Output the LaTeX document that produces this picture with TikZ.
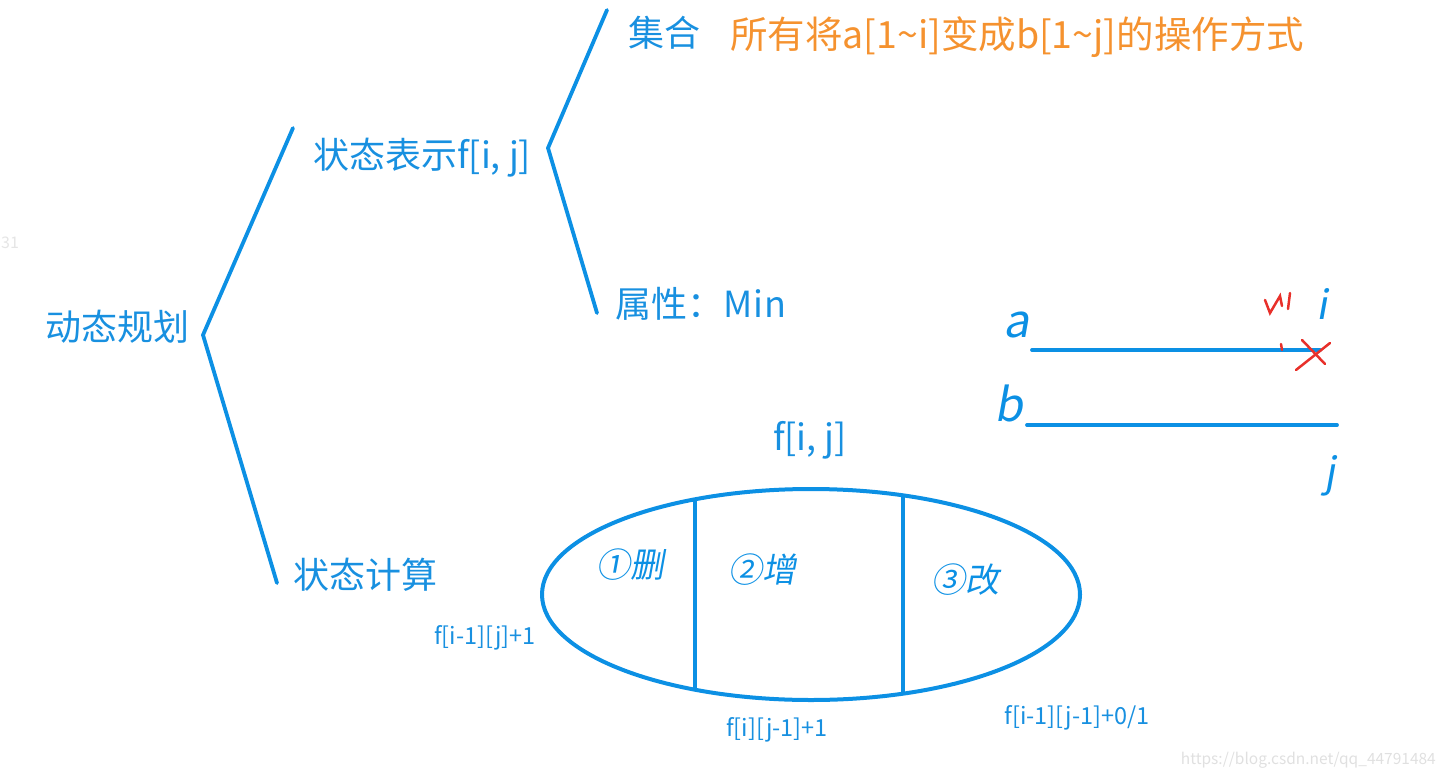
\documentclass[tikz,border=0pt]{standalone}
\usepackage{fontspec}
\setmainfont{Noto Sans CJK SC}
\newfontfamily\hand[FakeSlant=0.18]{Noto Sans CJK SC}
\usepackage{xcolor}
\usetikzlibrary{shapes.geometric,positioning}
\definecolor{penblue}{HTML}{0C90E4}
\definecolor{inkblue}{HTML}{1890E0}
\definecolor{penorange}{HTML}{F5922F}
\definecolor{penred}{HTML}{E8302A}

\begin{document}
\begin{tikzpicture}[x=1pt,y=-1pt,
	branch/.style={draw=penblue,line width=3.8pt,line cap=round,line join=round},
	title/.style={text=inkblue,font=\fontsize{36}{40}\selectfont,inner sep=0pt,anchor=west},
	formula/.style={text=inkblue,font=\fontsize{23.5}{26}\selectfont,inner sep=0pt},
	scrawl/.style={text=penblue,font=\hand\fontsize{34}{40}\selectfont,inner sep=0pt},
	redpen/.style={draw=penred,line width=2.5pt,line cap=round}]
		\useasboundingbox (0,0) rectangle (1442,778);
		\node[title] (dp) at (45,327) {动态规划};
		\node[title] (rep) at (313,158) {状态表示f[i, j]};
		\node[title] (set) at (628,33) {集合};
		\node[title,text=penorange,font=\fontsize{37.5}{40}\selectfont] (setdesc) at (730,37) {所有将a[1\textasciitilde i]变成b[1\textasciitilde j]的操作方式};
		\node[title] (attr) at (615,304) {属性：M\kern1pt i\kern1pt n};
		\node[title] (calc) at (293,575) {状态计算};
		\node[title,anchor=center] (fij) at (810,440) {f[i, j]};

		\coordinate (v1) at (203,335);
		\coordinate (top1) at (293,128);
		\coordinate (bot1) at (277,583);
		\coordinate (v2) at (548,148);
		\coordinate (top2) at (607,10);
		\coordinate (bot2) at (597,313);
		\draw[branch] (top1) -- (v1) -- (bot1);
		\draw[branch] (top2) -- (v2) -- (bot2);

		\node[draw=penblue,line width=4pt,ellipse,minimum width=538,minimum height=211,inner sep=0pt] (ops) at (811,594.5) {};
		\coordinate (d1t) at (695,499);
		\coordinate (d1b) at (695,690);
		\coordinate (d2t) at (903,495);
		\coordinate (d2b) at (903,694);
		\draw[branch,line cap=butt] (d1t) -- (d1b);
		\draw[branch,line cap=butt] (d2t) -- (d2b);
		\node[scrawl] (del) at (630,565) {①删};
		\node[scrawl] (ins) at (762,570) {②增};
		\node[scrawl] (chg) at (965,580) {③改};
		\node[formula] (delf) at (485,638) {f[i-1][j]+1};
		\node[formula] (insf) at (777,730) {f[i][j-1]+1};
		\node[formula] (chgf) at (1077,718) {f[i-1][j-1]+0/1};

		\coordinate (a1) at (1032,350);
		\coordinate (a2) at (1320,350);
		\coordinate (b1) at (1027,425);
		\coordinate (b2) at (1337,425);
		\draw[branch] (a1) -- (a2);
		\draw[branch] (b1) -- (b2);
		\node[scrawl,font=\hand\fontsize{46}{50}\selectfont] (la) at (1016,325) {a};
		\node[scrawl,font=\hand\fontsize{46}{50}\selectfont] (lb) at (1009,403) {b};
		\node[scrawl,font=\hand\fontsize{40}{44}\selectfont] (li) at (1322,304) {i};
		\node[scrawl,font=\hand\fontsize{40}{44}\selectfont] (lj) at (1330,476) {j};
		\draw[redpen] (1296,370) -- (1330,343);
		\draw[redpen] (1302,340) -- (1325,364);
		\draw[redpen] (1265,300) -- (1270,313) -- (1280,296) -- (1282,306);
		\draw[redpen] (1290,293) -- (1288,309);
		\draw[redpen] (1281,344) -- (1282,350);

		\node[text=black!12,font=\fontsize{15.5}{18}\selectfont,anchor=east,inner sep=0pt] (mark) at (1436,760) {https://blog.csdn.net/qq\_44791484};
		\node[text=black!10,font=\fontsize{16}{18}\selectfont,anchor=west,inner sep=0pt] (edge) at (1,243) {31};
	\end{tikzpicture}
\end{document}
